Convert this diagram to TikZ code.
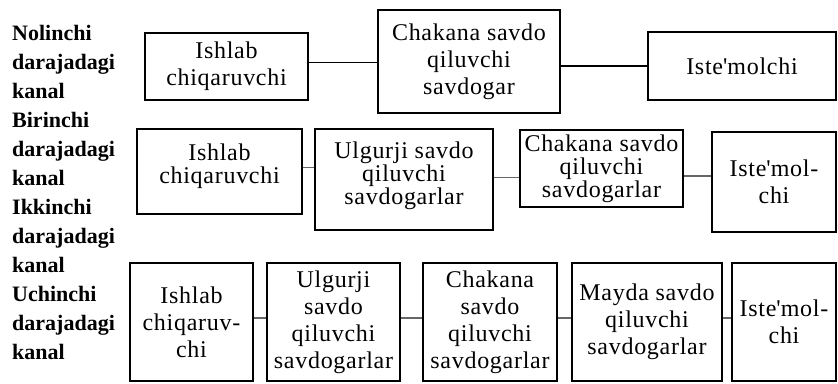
\documentclass[tikz,border=0pt]{standalone}
\usepackage{fontspec}
\setmainfont{Liberation Serif}[LetterSpace=3]
\usepackage{tikz}

\begin{document}
\begin{tikzpicture}[x=1pt, y=-1pt,
    quti/.style={draw, line width=1.1pt, align=center, inner sep=0pt,
        font=\fontsize{24}{27}\selectfont},
    zich/.style={font=\fontsize{24}{23}\selectfont},
    kanal/.style={align=left, anchor=west, inner sep=0pt,
        font=\bfseries\fontsize{22}{29}\selectfont\addfontfeatures{LetterSpace=0}}]
    \useasboundingbox (0,0) rectangle (838,383);

    % chap tomondagi yozuvlar
    \node[kanal] (k0) at (12,62) {Nolinchi\\darajadagi\\kanal};
    \node[kanal] (k1) at (12,149) {Birinchi\\darajadagi\\kanal};
    \node[kanal] (k2) at (12,236) {Ikkinchi\\darajadagi\\kanal};
    \node[kanal] (k3) at (12,323) {Uchinchi\\darajadagi\\kanal};

    % Nolinchi kanal
    \node[quti, minimum width=163pt, minimum height=67pt] (a1) at (226.5,66.5) {Ishlab\\chiqaruvchi};
    \node[quti, minimum width=182pt, minimum height=103pt] (a2) at (469,61.5) {Chakana savdo\\qiluvchi\\savdogar};
    \node[quti, minimum width=188pt, minimum height=68pt] (a3) at (742,66) {Iste\textquotesingle molchi};
    \draw[line width=1.1pt] ([yshift=4pt]a1.east) -- ([yshift=4pt]a1.east -| a2.west);
    \draw[line width=1.1pt] (a3.west -| a2.east) -- (a3.west);

    % Birinchi kanal
    \node[quti, zich, minimum width=165pt, minimum height=85pt, text depth=15pt] (b1) at (219.5,171.5) {Ishlab\\chiqaruvchi};
    \node[quti, zich, minimum width=178pt, minimum height=101pt, text depth=13pt] (b2) at (404,179.5) {Ulgurji savdo\\qiluvchi\\savdogarlar};
    \node[quti, zich, minimum width=163pt, minimum height=77pt] (b3) at (601.5,168.5) {Chakana savdo\\qiluvchi\\savdogarlar};
    \node[quti, minimum width=124pt, minimum height=100pt] (b4) at (774,182) {Iste\textquotesingle mol-\\chi};
    \draw[line width=1.1pt, black!60] ([yshift=4pt]b1.east) -- ([yshift=4pt]b1.east -| b2.west);
    \draw[line width=1.1pt, black!60] ([yshift=2pt]b2.east) -- ([yshift=2pt]b2.east -| b3.west);
    \draw[line width=1.1pt, black!60] ([yshift=6pt]b4.west -| b3.east) -- ([yshift=6pt]b4.west);

    % Ikkinchi kanal
    \node[quti, minimum width=123pt, minimum height=118pt] (c1) at (191.5,322) {Ishlab\\chiqaruv-\\chi};
    \node[quti, minimum width=133pt, minimum height=118pt] (c2) at (333.5,322) {Ulgurji\\savdo\\qiluvchi\\savdogarlar};
    \node[quti, minimum width=134pt, minimum height=118pt] (c3) at (490,322) {Chakana\\savdo\\qiluvchi\\savdogarlar};
    \node[quti, minimum width=150pt, minimum height=118pt] (c4) at (647,322) {Mayda savdo\\qiluvchi\\savdogarlar};
    \node[quti, minimum width=104pt, minimum height=118pt] (c5) at (784,322) {Iste\textquotesingle mol-\\chi};
    \foreach \a/\b in {c1/c2, c2/c3, c3/c4, c4/c5}
        \draw[line width=1.1pt, black!60] ([yshift=4pt]\a.east) -- ([yshift=4pt]\a.east -| \b.west);
\end{tikzpicture}
\end{document}
